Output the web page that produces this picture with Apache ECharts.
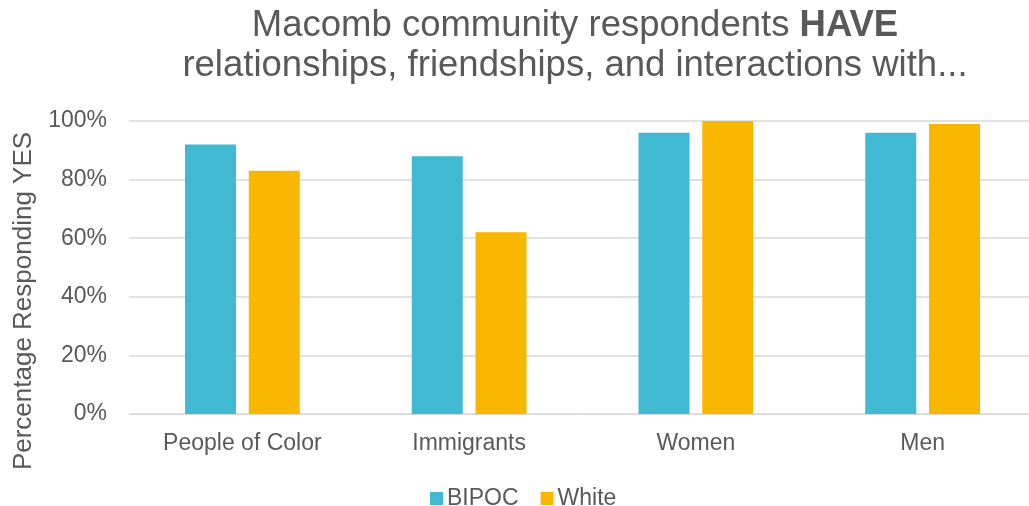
<!DOCTYPE html>
<html>
<head>
<meta charset="utf-8">
<script src="https://cdn.jsdelivr.net/npm/echarts@6/dist/echarts.min.js"></script>
<style>
  html, body { margin: 0; padding: 0; background: #fff; overflow: hidden; }
  #chart { width: 1036px; height: 506px; }
</style>
</head>
<body>
<div id="chart"></div>
<script>
// Share of respondents answering YES, by group
const categories = ['People of Color', 'Immigrants', 'Women', 'Men'];
const bipocValues = [92, 88, 96, 96];
const whiteValues = [83, 62, 100, 99];
const yTicks = [0, 20, 40, 60, 80, 100];
const yAxisTitle = 'Percentage Responding YES';

const textColor = '#595959';
const font = '"Liberation Sans", Arial, sans-serif';

const chart = echarts.init(document.getElementById('chart'));
chart.setOption({
  animation: false,
  textStyle: { fontFamily: font },
  title: {
    text: 'Macomb community respondents {b|HAVE}\nrelationships, friendships, and interactions with...',
    left: 570,
    textAlign: 'center',
    top: 1,
    textStyle: {
      fontFamily: font,
      fontSize: 36.5,
      fontWeight: 'normal',
      color: textColor,
      lineHeight: 40,
      rich: {
        b: { fontFamily: font, fontSize: 36.5, fontWeight: 'bold', color: textColor, lineHeight: 40 }
      }
    }
  },
  legend: {
    data: ['BIPOC', 'White'],
    top: 482,
    left: 425,
    itemWidth: 13,
    itemHeight: 13,
    itemGap: 22,
    icon: 'rect',
    textStyle: { fontFamily: font, fontSize: 23, color: textColor, padding: [0, 0, 0, -1] }
  },
  graphic: [{
    type: 'text',
    x: 24,
    y: 301,
    rotation: Math.PI / 2,
    style: {
      text: yAxisTitle,
      fontFamily: font,
      fontSize: 26,
      fill: textColor,
      align: 'center',
      verticalAlign: 'middle'
    }
  }],
  grid: { left: 129, right: 0, top: 121, bottom: 92 },
  xAxis: {
    type: 'category',
    data: categories,
    axisLine: { show: true, lineStyle: { color: '#d9d9d9', width: 1 } },
    axisTick: { show: false },
    axisLabel: { fontFamily: font, fontSize: 23, color: textColor, margin: 18 }
  },
  yAxis: {
    type: 'value',
    min: yTicks[0],
    max: yTicks[yTicks.length - 1],
    interval: 20,
    axisLine: { show: false },
    axisTick: { show: false },
    splitLine: { lineStyle: { color: '#d9d9d9', width: 1.5 } },
    axisLabel: {
      fontFamily: font, fontSize: 23, color: textColor, margin: 22,
      formatter: v => v + '%'
    }
  },
  series: [
    {
      name: 'BIPOC',
      type: 'bar',
      data: bipocValues,
      barWidth: 51,
      barGap: '25%',
      itemStyle: { color: '#41B9D3' }
    },
    {
      name: 'White',
      type: 'bar',
      data: whiteValues,
      barWidth: 51,
      barGap: '25%',
      itemStyle: { color: '#F9B700' }
    }
  ]
});
</script>
</body>
</html>
